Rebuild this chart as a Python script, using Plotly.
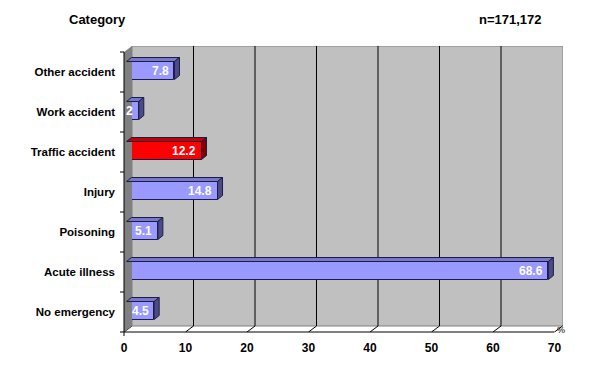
import plotly.graph_objects as go

# ---- data ----
categories = ["No emergency", "Acute illness", "Poisoning", "Injury",
              "Traffic accident", "Work accident", "Other accident"]
values = [4.5, 68.6, 5.1, 14.8, 12.2, 2, 7.8]
highlight = "Traffic accident"
x_ticks = [0, 10, 20, 30, 40, 50, 60, 70]
title_left = "Category"
title_right = "n=171,172"
unit_label = "%"

# ---- geometry (pixels -> data units) ----
W, H = 609, 371
L, R, T, B = 124, 563, 46, 332           # plot area in px
PX_X = 6.15                               # px per x unit
PX_Y = 40.0                               # px per category
X_MAX = (R - L) / PX_X
Y_MIN = -0.5
Y_MAX = Y_MIN + (B - T) / PX_Y
WALL_DX, WALL_DY = 8 / PX_X, 6 / PX_Y
BAR_X0, BAR_Y0 = 2.5 / PX_X, 1.5 / PX_Y
BAR_DX, BAR_DY = 5 / PX_X, 4 / PX_Y
HALF = 0.225


def px_x(p):
    return (p - L) / (R - L)


def px_y(p):
    return (B - p) / (B - T)


BLUE = ("#9999FF", "#7878C8", "#4C4C84")
RED = ("#FF0000", "#C80000", "#800000")
EDGE = "#1C1C4A"

fig = go.Figure()
shapes = []

# back wall
shapes.append(dict(type="rect", xref="x", yref="y", x0=WALL_DX, x1=X_MAX,
                   y0=Y_MIN + WALL_DY, y1=Y_MAX, fillcolor="#C0C0C0",
                   line=dict(color="#808080", width=1), layer="below"))
# gridlines on back wall
for t in x_ticks[1:-1]:
    shapes.append(dict(type="line", xref="x", yref="y", x0=t + WALL_DX, x1=t + WALL_DX,
                       y0=Y_MIN + WALL_DY, y1=Y_MAX, line=dict(color="black", width=1),
                       layer="below"))
# floor diagonal ticks
for t in x_ticks:
    shapes.append(dict(type="line", xref="x", yref="y", x0=t, x1=t + WALL_DX,
                       y0=Y_MIN, y1=Y_MIN + WALL_DY, line=dict(color="black", width=1),
                       layer="below"))
# front axes lines (paper refs so they are not clipped)
shapes.append(dict(type="line", xref="paper", yref="paper", x0=0, x1=px_x(L + 70 * PX_X),
                   y0=0, y1=0, line=dict(color="black", width=1)))
shapes.append(dict(type="line", xref="paper", yref="paper", x0=0, x1=0,
                   y0=px_y(B + 4), y1=px_y(52), line=dict(color="black", width=1)))
for k in range(len(categories) + 1):
    yy = px_y(B - k * PX_Y)
    shapes.append(dict(type="line", xref="paper", yref="paper", x0=px_x(L - 4), x1=0,
                       y0=yy, y1=yy, line=dict(color="black", width=1)))

# left wall
fig.add_trace(go.Scatter(
    x=[0, WALL_DX, WALL_DX, 0, 0],
    y=[Y_MIN, Y_MIN + WALL_DY, Y_MAX, len(categories) - 0.5, Y_MIN],
    mode="lines", fill="toself", fillcolor="#808080", line=dict(width=0),
    hoverinfo="skip", showlegend=False))

# bars: front faces
front_colors = [RED[0] if c == highlight else BLUE[0] for c in categories]
fig.add_trace(go.Bar(
    x=values, y=[i + BAR_Y0 for i in range(len(categories))], base=BAR_X0,
    orientation="h", width=2 * HALF, marker=dict(color=front_colors,
                                                 line=dict(color=EDGE, width=1)),
    hoverinfo="skip", showlegend=False))

# top and right faces
for i, (c, v) in enumerate(zip(categories, values)):
    col = RED if c == highlight else BLUE
    yc = i + BAR_Y0
    x0, x1 = BAR_X0, BAR_X0 + v
    yt = yc + HALF
    yb = yc - HALF
    fig.add_trace(go.Scatter(
        x=[x0, x1, x1 + BAR_DX, x0 + BAR_DX, x0],
        y=[yt, yt, yt + BAR_DY, yt + BAR_DY, yt],
        mode="lines", fill="toself", fillcolor=col[1],
        line=dict(color=EDGE, width=1), hoverinfo="skip", showlegend=False))
    fig.add_trace(go.Scatter(
        x=[x1, x1, x1 + BAR_DX, x1 + BAR_DX, x1],
        y=[yb, yt, yt + BAR_DY, yb + BAR_DY, yb],
        mode="lines", fill="toself", fillcolor=col[2],
        line=dict(color=EDGE, width=1), hoverinfo="skip", showlegend=False))

annotations = []
for i, v in enumerate(values):
    annotations.append(dict(x=BAR_X0 + v - 3.5 / PX_X, y=i + BAR_Y0, xref="x", yref="y",
                            text=f"{v:g}", showarrow=False, xanchor="right",
                            yanchor="middle",
                            font=dict(color="white", size=12, family="Liberation Sans",
                                      weight="bold")))
annotations.append(dict(x=px_x(67), y=px_y(19), xref="paper", yref="paper",
                        text=title_left, showarrow=False, xanchor="left", yanchor="middle",
                        font=dict(size=13, family="Liberation Sans", weight="bold",
                                  color="black")))
annotations.append(dict(x=px_x(544), y=px_y(19), xref="paper", yref="paper",
                        text=title_right, showarrow=False, xanchor="right",
                        yanchor="middle",
                        font=dict(size=13, family="Liberation Sans", weight="bold",
                                  color="black")))
annotations.append(dict(x=px_x(561), y=px_y(330), xref="paper", yref="paper",
                        text=unit_label, showarrow=False, xanchor="center",
                        yanchor="middle",
                        font=dict(size=9, family="Liberation Sans", color="black")))

fig.update_layout(
    width=W, height=H, margin=dict(l=L, r=W - R, t=T, b=H - B, pad=0, autoexpand=False),
    paper_bgcolor="white", plot_bgcolor="white", bargap=0,
    shapes=shapes, annotations=annotations, showlegend=False,
    font=dict(family="Liberation Sans", color="black"),
    xaxis=dict(range=[0, X_MAX], tickvals=x_ticks, ticktext=[str(t) for t in x_ticks],
               showgrid=False, zeroline=False, showline=False, ticks="",
               ticklabelstandoff=7, automargin=False,
               tickfont=dict(size=12, family="Liberation Sans", weight="bold",
                             color="black"), fixedrange=True),
    yaxis=dict(range=[Y_MIN, Y_MAX], tickvals=list(range(len(categories))),
               ticktext=categories, showgrid=False, zeroline=False, showline=False,
               ticks="", ticklabelstandoff=8, automargin=False,
               tickfont=dict(size=11.5, family="Liberation Sans", weight="bold",
                             color="black"), fixedrange=True),
)

fig.write_html("out.html", config={"displayModeBar": False},
               post_script="document.body.style.margin='0px';"
                           "document.body.style.overflow='hidden';")
